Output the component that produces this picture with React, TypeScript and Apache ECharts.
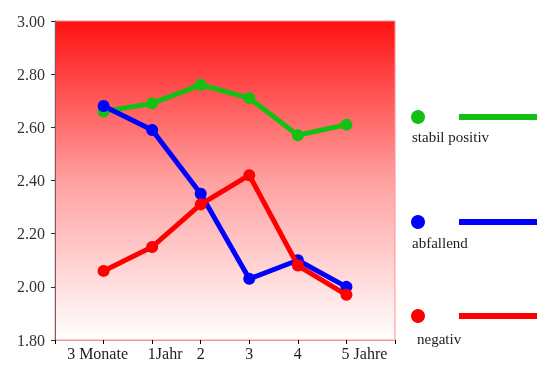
import React, { useEffect, useRef } from "react";
import * as echarts from "echarts";

const categories = ["3 Monate", "1Jahr", "2", "3", "4", "5 Jahre"];
const seriesNames = ["stabil positiv", "abfallend", "negativ"];
const stabilPositiv = [2.66, 2.69, 2.76, 2.71, 2.57, 2.61];
const abfallend = [2.68, 2.59, 2.35, 2.03, 2.1, 2.0];
const negativ = [2.06, 2.15, 2.31, 2.42, 2.08, 1.97];
const colors = ["#14c014", "#0000ff", "#ff0000"];
const yTicks = [1.8, 2.0, 2.2, 2.4, 2.6, 2.8, 3.0];

const FONT = "'Liberation Serif', 'Times New Roman', serif";

export default function App() {
  const ref = useRef<HTMLDivElement>(null);
  useEffect(() => {
    if (!ref.current) return;
    const chart = echarts.init(ref.current, undefined, { renderer: "svg" });
    const allData = [stabilPositiv, abfallend, negativ];
    const legendY = [117, 222, 316];
    const legendTextPos = [
      { x: 412, y: 137 },
      { x: 412, y: 243 },
      { x: 417, y: 339 },
    ];
    const graphics: any[] = [];
    seriesNames.forEach((name, i) => {
      graphics.push({
        type: "circle",
        shape: { cx: 418, cy: legendY[i], r: 7 },
        style: { fill: colors[i] },
      });
      graphics.push({
        type: "line",
        shape: { x1: 459, y1: legendY[i], x2: 537, y2: legendY[i] },
        style: { stroke: colors[i], lineWidth: 6 },
      });
      graphics.push({
        type: "text",
        x: legendTextPos[i].x,
        y: legendTextPos[i].y,
        style: {
          text: name,
          font: `15px ${FONT}`,
          fill: "#222",
          verticalAlign: "middle",
          align: "left",
        },
      });
    });
    chart.setOption({
      animation: false,
      grid: {
        left: 55,
        top: 21,
        right: 155,
        bottom: 34,
        show: true,
        borderColor: "#ff9090",
        borderWidth: 1,
        backgroundColor: new echarts.graphic.LinearGradient(0, 0, 0, 1, [
          { offset: 0, color: "#ff1212" },
          { offset: 0.5, color: "#ffa0a0" },
          { offset: 1, color: "#ffffff" },
        ]),
      },
      xAxis: {
        type: "value",
        min: 0,
        max: 7,
        interval: 1,
        splitLine: { show: false },
        axisLine: { show: true, lineStyle: { color: "#ff9090", width: 1 } },
        axisTick: { show: true, length: 4, lineStyle: { color: "#000" } },
        axisLabel: {
          margin: 5,
          color: "#222",
          fontFamily: FONT,
          fontSize: 16,
          formatter: (v: number) => {
            const i = Math.round(v) - 1;
            if (i < 0 || i >= categories.length) return "";
            return `{c${i}|${categories[i]}}`;
          },
          rich: {
            c0: { fontFamily: FONT, fontSize: 16, color: "#222", padding: [0, 12, 0, 0] },
            c1: { fontFamily: FONT, fontSize: 16, color: "#222", padding: [0, 0, 0, 26] },
            c2: { fontFamily: FONT, fontSize: 16, color: "#222" },
            c3: { fontFamily: FONT, fontSize: 16, color: "#222" },
            c4: { fontFamily: FONT, fontSize: 16, color: "#222" },
            c5: { fontFamily: FONT, fontSize: 16, color: "#222", padding: [0, 0, 0, 36] },
          },
        },
      },
      yAxis: {
        type: "value",
        min: yTicks[0],
        max: yTicks[yTicks.length - 1],
        interval: 0.2,
        splitLine: { show: false },
        axisLine: { show: true, lineStyle: { color: "#666", width: 1 } },
        axisTick: { show: true, length: 4, lineStyle: { color: "#333" } },
        axisLabel: {
          margin: 10,
          color: "#333",
          fontFamily: FONT,
          fontSize: 16,
          formatter: (v: number) => v.toFixed(2),
        },
      },
      series: allData.map((d, i) => ({
        name: seriesNames[i],
        type: "line",
        data: d.map((v, j) => [j + 1, v]),
        symbol: "circle",
        symbolSize: 12,
        itemStyle: { color: colors[i] },
        lineStyle: { color: colors[i], width: 5 },
        z: 2 + i,
      })),
      graphic: graphics,
    });
    return () => chart.dispose();
  }, []);
  return (
    <div
      ref={ref}
      style={{ position: "fixed", left: 0, top: 0, width: 550, height: 374 }}
    />
  );
}
